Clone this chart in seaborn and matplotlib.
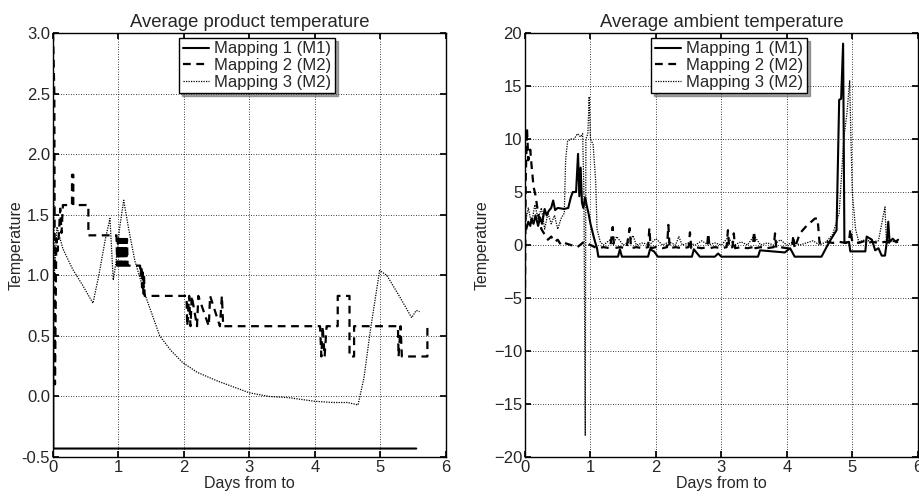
import matplotlib
matplotlib.use("Agg")
import matplotlib.pyplot as plt
import seaborn as sns
from matplotlib.ticker import FormatStrFormatter

# ---- left panel: average product temperature ----
prod_m1_x = [0.0, 0.005, 5.55]
prod_m1_y = [1.3, -0.43, -0.43]

prod_m2_x = [0.0, 0.02, 0.03, 0.05, 0.07, 0.09, 0.11, 0.13, 0.15, 0.15, 0.29, 0.29, 0.31, 0.31,
             0.54, 0.54, 0.97, 0.98, 0.99, 1.0, 1.01, 1.02, 1.03, 1.04, 1.05, 1.06, 1.07, 1.08,
             1.09, 1.1, 1.11, 1.12, 1.13, 1.14, 1.15, 1.33, 1.34, 1.35, 1.36, 1.37, 1.38, 1.39,
             1.4, 2.04, 2.05, 2.08, 2.1, 2.12, 2.2, 2.22, 2.38, 2.4, 2.55, 2.58, 2.6, 4.08,
             4.1, 4.12, 4.15, 4.18, 4.2, 4.35, 4.35, 4.53, 4.53, 4.6, 4.6, 5.27, 5.28, 5.31,
             5.33, 5.35, 5.72, 5.72]
prod_m2_y = [3.0, 2.5, 0.1, 1.3, 1.2, 1.35, 1.55, 1.35, 1.57, 1.58, 1.58, 1.83, 1.83, 1.58,
             1.58, 1.33, 1.33, 1.08, 1.3, 1.08, 1.3, 1.08, 1.3, 1.08, 1.3, 1.08, 1.3, 1.08,
             1.3, 1.08, 1.3, 1.08, 1.3, 1.08, 1.08, 1.08, 1.0, 1.08, 0.9, 1.05, 0.85, 1.0,
             0.83, 0.83, 0.58, 0.83, 0.58, 0.83, 0.58, 0.83, 0.58, 0.83, 0.58, 0.83, 0.58, 0.58,
             0.33, 0.58, 0.33, 0.58, 0.58, 0.58, 0.83, 0.83, 0.33, 0.33, 0.58, 0.58, 0.33, 0.58,
             0.33, 0.33, 0.33, 0.58]

prod_m3_x = [0.0, 0.02, 0.06, 0.15, 0.3, 0.45, 0.61, 0.7, 0.8, 0.87, 0.92, 0.96, 1.02, 1.08,
             1.15, 1.25, 1.4, 1.63, 1.8, 1.98, 2.2, 2.5, 2.75, 3.0, 3.3, 3.6, 4.0, 4.28, 4.5,
             4.66, 4.75, 4.85, 4.99, 5.1, 5.3, 5.48, 5.55, 5.6]
prod_m3_y = [2.8, 1.0, 1.4, 1.22, 1.05, 0.92, 0.77, 1.0, 1.3, 1.47, 0.96, 1.1, 1.4, 1.62,
             1.4, 1.12, 0.85, 0.5, 0.38, 0.28, 0.2, 0.13, 0.08, 0.03, 0.0, -0.01, -0.04, -0.05, -0.05,
             -0.07, 0.15, 0.55, 1.04, 1.0, 0.82, 0.65, 0.71, 0.7]

# ---- right panel: average ambient temperature ----
amb_m1_x = [0.0, 0.02, 0.05, 0.08, 0.1, 0.13, 0.16, 0.2, 0.23, 0.26, 0.3, 0.33, 0.36, 0.4,
            0.43, 0.46, 0.5, 0.6, 0.66, 0.7, 0.73, 0.78, 0.81, 0.83, 0.85, 0.87, 0.89, 0.92,
            0.94, 0.97, 1.0, 1.04, 1.07, 1.1, 1.12, 1.42, 1.45, 1.48, 1.88, 1.91, 1.97, 2.03,
            2.55, 2.58, 2.67, 2.9, 2.95, 3.0, 3.56, 3.59, 3.97, 4.05, 4.12, 4.53, 4.65, 4.76,
            4.8, 4.83, 4.86, 4.88, 4.95, 4.97, 5.2, 5.22, 5.3, 5.35, 5.4, 5.45, 5.5, 5.53,
            5.55, 5.57, 5.62, 5.66, 5.7]
amb_m1_y = [2.0, 1.5, 2.2, 1.8, 2.5, 2.0, 2.8, 1.8, 2.6, 2.0, 3.4, 2.8, 3.2, 3.5,
            4.2, 3.3, 3.5, 3.4, 3.5, 4.5, 5.0, 5.0, 8.6, 4.6, 7.3, 4.0, 3.5, 4.5,
            3.8, 3.0, 2.0, 1.0, 0.3, -0.3, -1.1, -1.1, -0.4, -1.1, -1.1, -0.4, -0.6, -1.1,
            -1.1, -0.4, -1.1, -1.1, -0.8, -1.1, -1.1, -0.5, -0.7, -0.3, -1.1, -1.1, 0.3, 1.4,
            13.7, 13.8, 19.0, 0.2, 0.3, -0.6, -0.6, 0.8, 0.5, -0.5, -0.3, -1.0, -1.0, 0.4,
            2.2, 0.3, 0.6, 0.3, 0.5]

amb_m2_x = [0.0, 0.01, 0.03, 0.05, 0.08, 0.1, 0.13, 0.16, 0.2, 0.25, 0.3, 0.35, 0.4, 0.45,
            0.5, 0.55, 0.6, 0.7, 0.8, 0.9, 1.0, 1.1, 1.2, 1.3, 1.34, 1.36, 1.45, 1.55, 1.6,
            1.62, 1.7, 1.8, 1.88, 1.9, 1.92, 2.0, 2.1, 2.17, 2.19, 2.21, 2.3, 2.4, 2.5, 2.52,
            2.54, 2.6, 2.7, 2.78, 2.8, 2.82, 2.9, 3.0, 3.08, 3.1, 3.12, 3.17, 3.19, 3.21, 3.3,
            3.4, 3.48, 3.5, 3.52, 3.6, 3.7, 3.8, 3.82, 3.84, 3.9, 4.0, 4.08, 4.1, 4.12, 4.2,
            4.3, 4.43, 4.47, 4.5, 4.6, 4.7, 4.8, 4.9, 4.95, 4.97, 5.0, 5.1, 5.2, 5.25, 5.3,
            5.4, 5.5, 5.6, 5.7]
amb_m2_y = [-4.0, 6.0, 11.0, 8.0, 9.0, 7.5, 5.5, 4.7, 3.0, 1.5, 1.0, 0.5, 0.8, 0.3,
            0.5, 0.0, 0.2, 0.0, -0.2, 0.3, 0.0, -0.3, -0.2, -0.3, 1.7, -0.3, -0.2, -0.3, 1.6,
            -0.3, -0.2, -0.3, -0.2, 1.6, -0.3, -0.2, -0.3, -0.2, 1.9, -0.3, -0.2, -0.3, -0.2, 1.2,
            -0.3, -0.2, -0.3, -0.2, 1.1, -0.3, -0.2, -0.3, -0.2, 1.4, -0.3, -0.2, 1.1, -0.3, -0.2,
            -0.3, -0.2, 1.3, -0.3, -0.2, -0.3, -0.2, 1.1, -0.3, -0.2, -0.3, -0.2, 0.9, -0.3, 1.1,
            1.8, 2.5, 2.5, 0.2, 0.3, 0.2, 0.3, 0.2, 0.3, 1.5, 0.3, 0.2, 0.4, 0.2, 0.3,
            0.2, 0.3, 0.2, 0.3]

amb_m3_x = [0.0, 0.05, 0.1, 0.15, 0.2, 0.25, 0.3, 0.35, 0.4, 0.45, 0.5, 0.55, 0.6, 0.62,
            0.65, 0.7, 0.75, 0.8, 0.85, 0.88, 0.9, 0.92, 0.93, 0.96, 0.98, 1.0, 1.04, 1.08,
            1.1, 1.15, 1.2, 1.3, 1.35, 1.4, 1.5, 1.6, 1.65, 1.7, 1.8, 1.9, 2.0, 2.1, 2.2,
            2.3, 2.35, 2.4, 2.5, 2.6, 2.7, 2.8, 2.9, 3.0, 3.1, 3.2, 3.3, 3.4, 3.5, 3.6,
            3.7, 3.8, 3.9, 4.0, 4.1, 4.2, 4.3, 4.4, 4.5, 4.6, 4.7, 4.8, 4.87, 4.92, 4.96,
            4.98, 5.0, 5.05, 5.1, 5.2, 5.3, 5.4, 5.5, 5.52, 5.6, 5.7]
amb_m3_y = [2.0, 3.5, 2.0, 3.8, 2.5, 3.5, 1.5, 3.0, 2.0, 2.8, 1.5, 2.5, 3.0, 8.0,
            9.8, 10.0, 10.0, 10.5, 10.2, 10.5, 5.0, -18.0, 10.0, 10.5, 14.0, 10.0, 9.5, 6.0,
            1.5, 0.3, 0.0, 0.5, 0.0, 0.8, 0.0, 0.3, 0.9, 0.0, 0.2, 0.0, 0.6, 0.0, 0.3,
            0.0, 0.8, 0.0, 0.2, 0.0, 0.4, 0.0, 0.2, 0.0, 0.7, 0.0, 0.3, 0.0, 0.9, 0.0,
            0.2, 0.0, 0.5, 0.0, 0.3, 0.0, 0.2, 0.4, 0.0, 0.3, 1.0, 3.0, 10.0, 12.5, 15.5,
            10.0, 5.0, 1.5, 0.3, 0.5, 0.3, 0.4, 3.6, 0.5, 0.3, 0.4]

labels = ["Mapping 1 (M1)", "Mapping 2 (M2)", "Mapping 3 (M2)"]

sns.set_theme(style="ticks")
plt.rcParams['font.family'] = ['Liberation Sans', 'DejaVu Sans']
plt.rcParams['axes.unicode_minus'] = True

fig = plt.figure(figsize=(9.19, 4.96), dpi=100)
ax1 = fig.add_axes([0.0577, 0.0786, 0.4273, 0.8548])
ax2 = fig.add_axes([0.5713, 0.0786, 0.4273, 0.8548])

styles = [dict(lw=1.5, linestyle='-'),
          dict(lw=1.6, linestyle=(0, (3.5, 2.5))),
          dict(lw=0.9, linestyle=(0, (1, 1)))]


def draw(ax, series, ylim, yticks, title, fmt, ylab_x):
    for (xs, ys), lab, st in zip(series, labels, styles):
        sns.lineplot(x=xs, y=ys, ax=ax, color='black', sort=False, estimator=None,
                     label=lab, **st)
    ax.set_xlim(0, 6)
    ax.set_ylim(*ylim)
    ax.set_xticks(range(7))
    ax.set_yticks(yticks)
    if fmt:
        ax.yaxis.set_major_formatter(FormatStrFormatter(fmt))
    ax.grid(True, color='black', linestyle=(0, (1, 2)), lw=0.6)
    ax.tick_params(direction='in', top=True, right=True, labelsize=12, length=4, color='black',
                   pad=2)
    for sp in ax.spines.values():
        sp.set_color('black')
        sp.set_linewidth(1.0)
    ax.set_title(title, fontsize=13.3, pad=4)
    ax.set_xlabel("Days from to", fontsize=11.5, labelpad=1)
    ax.set_ylabel("Temperature", fontsize=11.5)
    ax.yaxis.set_label_coords(ylab_x, 0.5)
    leg = ax.legend(loc='upper center', bbox_to_anchor=(0.52, 1.0), fontsize=12, frameon=True,
                    fancybox=False, shadow=True, edgecolor='black', framealpha=1,
                    handlelength=1.6, handletextpad=0.3, labelspacing=0.1, borderpad=0.2,
                    borderaxespad=0.3)
    leg.get_frame().set_linewidth(1.0)


draw(ax1, [(prod_m1_x, prod_m1_y), (prod_m2_x, prod_m2_y), (prod_m3_x, prod_m3_y)],
     (-0.5, 3.0), [-0.5, 0, 0.5, 1.0, 1.5, 2.0, 2.5, 3.0], "Average product temperature", '%.1f',
     -0.076)
draw(ax2, [(amb_m1_x, amb_m1_y), (amb_m2_x, amb_m2_y), (amb_m3_x, amb_m3_y)],
     (-20, 20), [-20, -15, -10, -5, 0, 5, 10, 15, 20], "Average ambient temperature", None,
     -0.089)

fig.savefig("out.png", dpi=100)
